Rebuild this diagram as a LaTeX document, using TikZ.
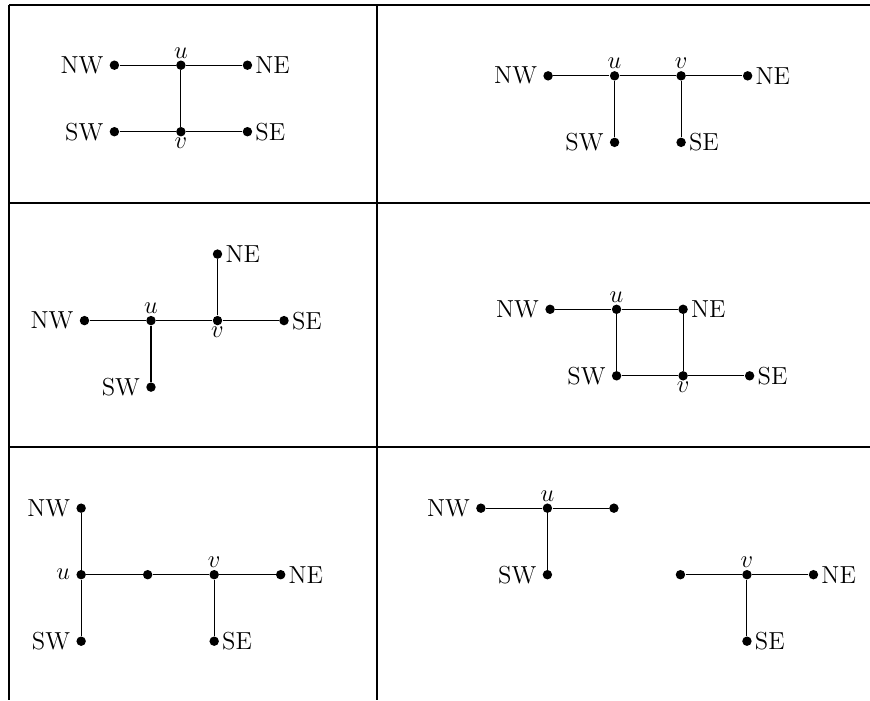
\documentclass[tikz,border=0pt]{standalone}
\usepackage{amsmath}
\usepackage{amssymb}
\usetikzlibrary{positioning}

\tikzset{
    vtx/.style={circle, fill=black, inner sep=0pt, minimum size=4.6pt},
    lw/.style={label={[label distance=1.7pt, inner sep=1pt, font=\large]left:#1}},
    le/.style={label={[label distance=0.2pt, inner sep=1pt, font=\large]right:#1}},
    lu/.style={label={[label distance=-0.3pt, inner sep=1pt, font=\large]above:#1}},
    ld/.style={label={[label distance=-0.8pt, inner sep=1pt, font=\large]below:#1}},
    rule/.style={black, line width=1.2pt},
    edge/.style={line width=0.5pt}
}

\begin{document}
\begin{tikzpicture}[x=1.14cm, y=1.14cm]
            \useasboundingbox (0, 0) rectangle (13.08, -10.53);

            % table rules
            \draw[rule] (0.135, -0.075) -- (13.08, -0.075);
            \draw[rule] (0.135, -3.05) -- (13.08, -3.05);
            \draw[rule] (0.135, -6.72) -- (13.08, -6.72);
            \draw[rule] (0.135, -0.075) -- (0.135, -10.53);
            \draw[rule] (5.67, -0.075) -- (5.67, -10.53);

            % first row, left
            \node[vtx, lw=NW] (nwA) at (1.72, -0.98) {};
            \node[vtx, lu=$u$] (uA) at (2.72, -0.98) {};
            \node[vtx, le=NE] (neA) at (3.72, -0.98) {};
            \node[vtx, lw=SW] (swA) at (1.72, -1.98) {};
            \node[vtx, ld=$v$] (vA) at (2.72, -1.98) {};
            \node[vtx, le=SE] (seA) at (3.72, -1.98) {};
            \draw[edge] (nwA) -- (uA) -- (neA);
            \draw[edge] (swA) -- (vA) -- (seA);
            \draw[edge] (uA) -- (vA);

            % first row, right
            \node[vtx, lw=NW] (nwB) at (8.24, -1.14) {};
            \node[vtx, lu=$u$] (uB) at (9.24, -1.14) {};
            \node[vtx, lu=$v$] (vB) at (10.24, -1.14) {};
            \node[vtx, le=NE] (neB) at (11.24, -1.14) {};
            \node[vtx, lw=SW] (swB) at (9.24, -2.14) {};
            \node[vtx, le=SE] (seB) at (10.24, -2.14) {};
            \draw[edge] (nwB) -- (uB) -- (vB) -- (neB);
            \draw[edge] (uB) -- (swB);
            \draw[edge] (vB) -- (seB);

            % second row, left
            \node[vtx, lw=NW] (nwC) at (1.27, -4.82) {};
            \node[vtx, lu=$u$] (uC) at (2.27, -4.82) {};
            \node[vtx, ld=$v$] (vC) at (3.27, -4.82) {};
            \node[vtx, le=SE] (seC) at (4.27, -4.82) {};
            \node[vtx, le=NE] (neC) at (3.27, -3.82) {};
            \node[vtx, lw=SW] (swC) at (2.27, -5.82) {};
            \draw[edge] (nwC) -- (uC) -- (vC) -- (seC);
            \draw[edge] (uC) -- (swC);
            \draw[edge] (vC) -- (neC);

            % second row, right
            \node[vtx, lw=NW] (nwD) at (8.27, -4.65) {};
            \node[vtx, lu=$u$] (uD) at (9.27, -4.65) {};
            \node[vtx, le=NE] (neD) at (10.27, -4.65) {};
            \node[vtx, lw=SW] (swD) at (9.27, -5.65) {};
            \node[vtx, ld=$v$] (vD) at (10.27, -5.65) {};
            \node[vtx, le=SE] (seD) at (11.27, -5.65) {};
            \draw[edge] (nwD) -- (uD) -- (neD) -- (vD);
            \draw[edge] (uD) -- (swD) -- (vD) -- (seD);

            % third row, left
            \node[vtx, lw=NW] (nwE) at (1.22, -7.64) {};
            \node[vtx, lw=$u$] (uE) at (1.22, -8.64) {};
            \node[vtx] (mE) at (2.22, -8.64) {};
            \node[vtx, lu=$v$] (vE) at (3.22, -8.64) {};
            \node[vtx, le=NE] (neE) at (4.22, -8.64) {};
            \node[vtx, lw=SW] (swE) at (1.22, -9.64) {};
            \node[vtx, le=SE] (seE) at (3.22, -9.64) {};
            \draw[edge] (nwE) -- (uE) -- (swE);
            \draw[edge] (uE) -- (mE) -- (vE) -- (neE);
            \draw[edge] (vE) -- (seE);

            % third row, right
            \node[vtx, lw=NW] (nwF) at (7.23, -7.64) {};
            \node[vtx, lu=$u$] (uF) at (8.23, -7.64) {};
            \node[vtx] (aF) at (9.23, -7.64) {};
            \node[vtx, lw=SW] (swF) at (8.23, -8.64) {};
            \node[vtx] (bF) at (10.23, -8.64) {};
            \node[vtx, lu=$v$] (vF) at (11.23, -8.64) {};
            \node[vtx, le=NE] (neF) at (12.23, -8.64) {};
            \node[vtx, le=SE] (seF) at (11.23, -9.64) {};
            \draw[edge] (nwF) -- (uF) -- (aF);
            \draw[edge] (uF) -- (swF);
            \draw[edge] (bF) -- (vF) -- (neF);
            \draw[edge] (vF) -- (seF);
        \end{tikzpicture}
\end{document}
